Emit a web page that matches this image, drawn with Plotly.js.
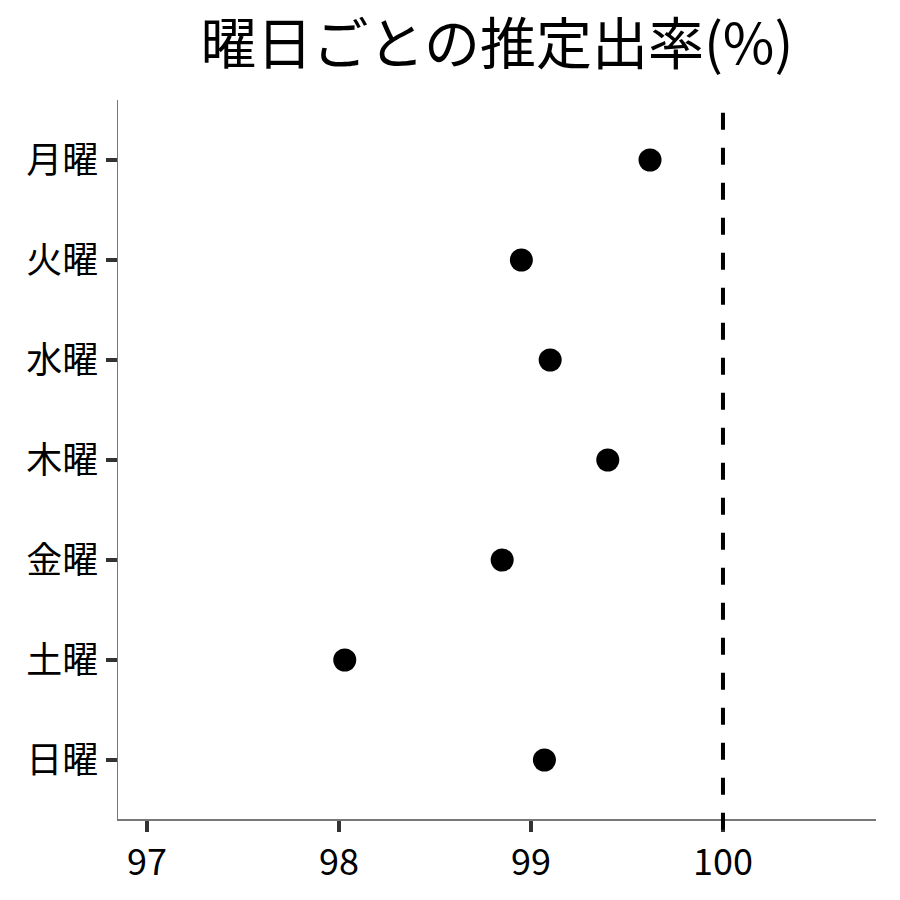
<!DOCTYPE html>
<html>
<head>
<meta charset="utf-8">
<script src="https://cdn.plot.ly/plotly-3.0.1.min.js"></script>
<style>html,body{margin:0;padding:0;background:#fff;}#chart{width:900px;height:900px;}</style>
</head>
<body>
<div id="chart"></div>
<script>
const days = ["月曜", "火曜", "水曜", "木曜", "金曜", "土曜", "日曜"];
const rates = [99.62, 98.95, 99.10, 99.40, 98.85, 98.03, 99.07];
const refValue = 100;
const xTicks = [97, 98, 99, 100];
const titleText = "曜日ごとの推定出率(%)";

const FONT = "Noto Sans CJK JP, Noto Sans, sans-serif";

const trace = {
  type: "scatter",
  mode: "markers",
  x: rates,
  y: days,
  marker: {color: "#000000", size: 23},
  hoverinfo: "x+y",
  showlegend: false,
  cliponaxis: false
};

const layout = {
  width: 900,
  height: 900,
  paper_bgcolor: "#ffffff",
  plot_bgcolor: "#ffffff",
  margin: {l: 118, r: 24, t: 100, b: 81},
  font: {family: FONT, color: "#000000"},
  title: {
    text: titleText,
    font: {family: FONT, size: 56, color: "#000000"},
    x: 0.5521, xanchor: "center",
    y: 0.951, yanchor: "middle"
  },
  xaxis: {
    range: [96.849, 100.797],
    tickvals: xTicks,
    ticktext: xTicks.map(String),
    ticks: "outside",
    ticklen: 11,
    tickwidth: 3.5,
    tickcolor: "#333333",
    tickfont: {family: FONT, size: 36, color: "#000000"},
    showline: true,
    linecolor: "#777777",
    linewidth: 1.5,
    showgrid: false,
    zeroline: false,
    mirror: false
  },
  yaxis: {
    type: "category",
    categoryorder: "array",
    categoryarray: days,
    range: [6.59, -0.6],
    ticks: "outside",
    ticklen: 11,
    tickwidth: 3.5,
    tickcolor: "#333333",
    tickfont: {family: FONT, size: 36, color: "#000000"},
    showline: true,
    linecolor: "#777777",
    linewidth: 1.5,
    showgrid: false,
    zeroline: false
  },
  shapes: [{
    type: "line",
    xref: "x",
    yref: "paper",
    x0: refValue, x1: refValue,
    y0: -0.015, y1: 1,
    line: {color: "#000000", width: 4, dash: "17px,18px"},
    layer: "above"
  }]
};

Plotly.newPlot("chart", [trace], layout, {displayModeBar: false, staticPlot: true});
</script>
</body>
</html>
